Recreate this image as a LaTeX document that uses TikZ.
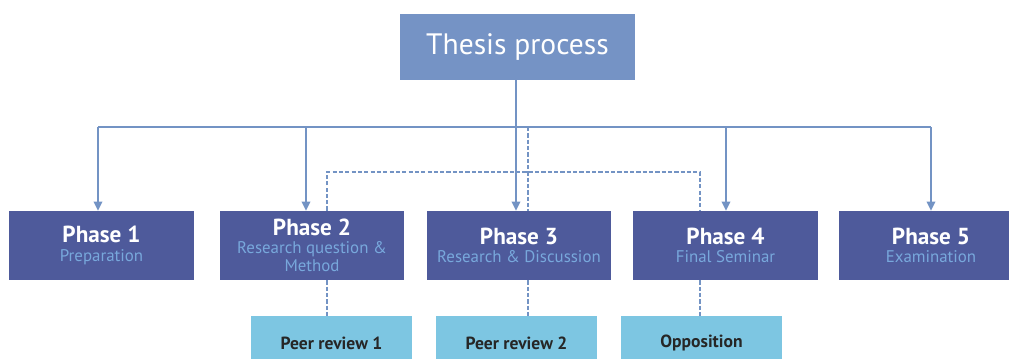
\documentclass[tikz,border=0pt]{standalone}
\usepackage{fontspec}
\setmainfont{PT Sans}
\usetikzlibrary{arrows.meta}

\definecolor{topblue}{HTML}{7593C5}
\definecolor{phaseblue}{HTML}{4E5A9B}
\definecolor{subblue}{HTML}{78A8DC}
\definecolor{peerblue}{HTML}{7DC6E2}
\definecolor{lineblue}{HTML}{7393C4}

\newcommand{\phasetitle}[1]{{\bfseries\fontsize{16.5}{18}\selectfont #1}}
\newcommand{\phasesub}[1]{{\color{subblue}#1}}

\begin{document}
\begin{tikzpicture}[x=0.025cm, y=-0.025cm,
  topbox/.style={fill=topblue, text=white, inner sep=0pt, minimum width=5.875cm, minimum height=1.65cm, font=\fontsize{21}{24}\selectfont},
  phasebox/.style={fill=phaseblue, text=white, align=center, inner sep=0pt, minimum width=4.6cm, minimum height=1.725cm, font=\fontsize{12}{13}\selectfont},
  peerbox/.style={fill=peerblue, text=black!85, inner sep=0pt, minimum width=4.025cm, minimum height=1.35cm, font=\bfseries\fontsize{12.5}{14}\selectfont},
  busline/.style={draw=lineblue, line width=1.5pt},
  arrowline/.style={busline, -{Triangle[length=6.5pt, width=6pt]}},
  dashline/.style={draw=lineblue, line width=1.5pt, dash pattern=on 3pt off 1.5pt}]
\useasboundingbox (0,0) rectangle (1009,358);
\clip (0,0) rectangle (1009,358);

% top box
\node[topbox] (thesis) at (517.5,47) {Thesis process};

% phases
\node[phasebox] (p1) at (101.5,245.5) {\phasetitle{Phase 1}\\\phasesub{Preparation}};
\node[phasebox] (p2) at (312,245.5) {\phasetitle{Phase 2}\\\phasesub{Research question \&}\\\phasesub{Method}};
\node[phasebox] (p3) at (519,245.5) {\phasetitle{Phase 3}\\\phasesub{Research \& Discussion}};
\node[phasebox] (p4) at (725.5,245.5) {\phasetitle{Phase 4}\\\phasesub{Final Seminar}};
\node[phasebox] (p5) at (931,245.5) {\phasetitle{Phase 5}\\\phasesub{Examination}};

% reviews
\node[peerbox] (r1) at (331.5,343) {Peer review 1};
\node[peerbox] (r2) at (516.5,343) {Peer review 2};
\node[peerbox] (r3) at (701.5,343) {Opposition};

\coordinate (bus) at (516,127);
\coordinate (a1) at (98,127);
\coordinate (a2) at (306,127);
\coordinate (a3) at (516,127);
\coordinate (a4) at (726,127);
\coordinate (a5) at (931,127);
\coordinate (d2) at (327,172);
\coordinate (d3) at (528,127);
\coordinate (d4) at (700,172);

% dashed links
\draw[dashline] (d2 |- p2.north) -- (d2) -- (d4) -- (d4 |- p4.north);
\draw[dashline] (d3) -- (d3 |- p3.north);
\draw[dashline] (d2 |- p2.south) -- (d2 |- r1.north);
\draw[dashline] (d3 |- p3.south) -- (d3 |- r2.north);
\draw[dashline] (d4 |- p4.south) -- (d4 |- r3.north);

% solid links
\draw[busline] (thesis.south -| bus) -- (bus);
\draw[busline] (a1) -- (a5);
\draw[arrowline] (a1) -- (a1 |- p1.north);
\draw[arrowline] (a2) -- (a2 |- p2.north);
\draw[arrowline] (a3) -- (a3 |- p3.north);
\draw[arrowline] (a4) -- (a4 |- p4.north);
\draw[arrowline] (a5) -- (a5 |- p5.north);
\end{tikzpicture}
\end{document}
